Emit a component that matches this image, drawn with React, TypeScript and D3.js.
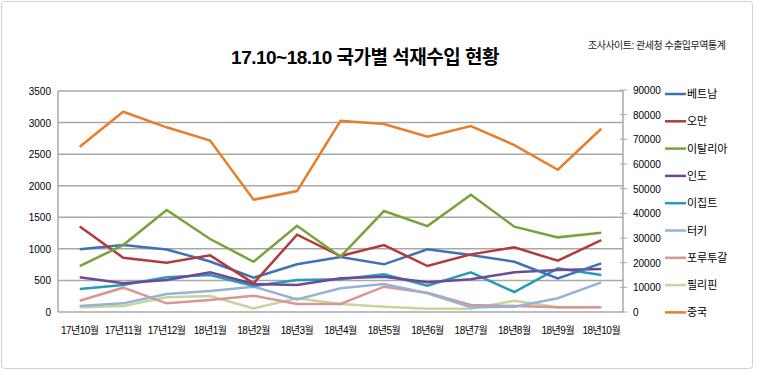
import React from "react";
import * as d3 from "d3";

const categories = ["17년10월","17년11월","17년12월","18년1월","18년2월","18년3월","18년4월","18년5월","18년6월","18년7월","18년8월","18년9월","18년10월"];
const seriesNames = ["베트남","오만","이탈리아","인도","이집트","터키","포루투갈","필리핀","중국"];
const vietnam = [995,1060,990,800,543,755,870,755,992,902,796,533,771];
const oman = [1355,860,780,897,454,1224,886,1061,728,913,1024,812,1140];
const italy = [728,1060,1615,1156,796,1366,876,1599,1361,1857,1351,1182,1256];
const india = [549,454,507,628,443,427,533,559,470,517,628,665,681];
const egypt = [364,427,549,586,412,507,517,597,416,628,317,691,586];
const turkey = [95,137,285,332,401,200,375,443,296,74,84,217,470];
const portugal = [179,385,137,190,258,127,127,401,306,111,95,74,74];
const philippines = [74,95,232,253,58,217,127,84,52,52,179,74,74];
const china = [2617,3172,2925,2715,1778,1915,3029,2976,2775,2944,2644,2253,2902];
const seriesValues = [vietnam, oman, italy, india, egypt, turkey, portugal, philippines, china];
const colors = ["#3f72b5","#b33a3a","#77a33a","#6c4a96","#2a9bb5","#95b3d7","#d99694","#c3d69b","#e67e2a"];
const leftTicks = [0,500,1000,1500,2000,2500,3000,3500];
const rightTicks = [0,10000,20000,30000,40000,50000,60000,70000,80000,90000];

const FONT = "'Liberation Sans', 'Noto Sans CJK KR', Arial, sans-serif";

export default function App() {
  const W = 760, H = 376;
  const left = 58, right = 623, top = 91, bottom = 312;
  const x = d3.scaleBand<string>().domain(categories).range([left, right]);
  const y = d3.scaleLinear().domain([0, 3500]).range([bottom, top]);
  const y2 = d3.scaleLinear().domain([0, 90000]).range([bottom, top - 1]);
  const cx = (c: string) => (x(c) as number) + x.bandwidth() / 2;
  const line = d3.line<number>().x((_, i) => cx(categories[i])).y(d => y(d));
  const order = [7, 6, 5, 4, 3, 0, 1, 2, 8];
  return (
    <svg width={W} height={H} style={{ position: "absolute", left: 0, top: 0, background: "#fff" }} fontFamily={FONT}>
      <rect x={1.5} y={1.5} width={751} height={367} fill="#fff" stroke="#d0d0d0" strokeWidth={1} rx={3} />
      <text x={365} y={64} textAnchor="middle" fontSize={19} fontWeight="bold" fill="#000" style={{ letterSpacing: "-0.5px" }}>17.10~18.10 국가별 석재수입 현황</text>
      <text x={588} y={49} fontSize={10} fill="#222" style={{ letterSpacing: "-0.5px" }}>조사사이트: 관세청 수출입무역통계</text>
      {leftTicks.map(t => (
        <g key={"l" + t}>
          {t > 0 && <line x1={left} x2={right} y1={y(t)} y2={y(t)} stroke="#a8a8a8" strokeWidth={1.5} />}
          <text x={51} y={y(t) + 4} textAnchor="end" fontSize={10} fill="#000">{t}</text>
        </g>
      ))}
      <line x1={left} x2={left} y1={top} y2={bottom} stroke="#a8a8a8" strokeWidth={1.5} />
      <line x1={left} x2={right} y1={bottom} y2={bottom} stroke="#a8a8a8" strokeWidth={1.5} />
      <line x1={right} x2={right} y1={top - 1} y2={bottom} stroke="#a8a8a8" strokeWidth={1.5} />
      {rightTicks.map(t => (
        <g key={"r" + t}>
          <line x1={right - 3} x2={right + 4} y1={y2(t)} y2={y2(t)} stroke="#a8a8a8" strokeWidth={1} />
          <text x={633} y={y2(t) + 4} fontSize={10} fill="#000">{t}</text>
        </g>
      ))}
      {categories.map(c => (
        <text key={c} x={cx(c)} y={334} textAnchor="middle" fontSize={10} fill="#000" style={{ letterSpacing: "-0.5px" }}>{c}</text>
      ))}
      {order.map(i => (
        <path key={seriesNames[i]} d={line(seriesValues[i]) || ""} fill="none" stroke={colors[i]} strokeWidth={2.5} strokeLinejoin="miter" />
      ))}
      {seriesNames.map((n, i) => {
        const ly = 94 + i * 27.3;
        return (
          <g key={"lg" + n}>
            <line x1={665} x2={686} y1={ly} y2={ly} stroke={colors[i]} strokeWidth={2.5} />
            <text x={687} y={ly + 4} fontSize={11} fill="#000">{n}</text>
          </g>
        );
      })}
    </svg>
  );
}
